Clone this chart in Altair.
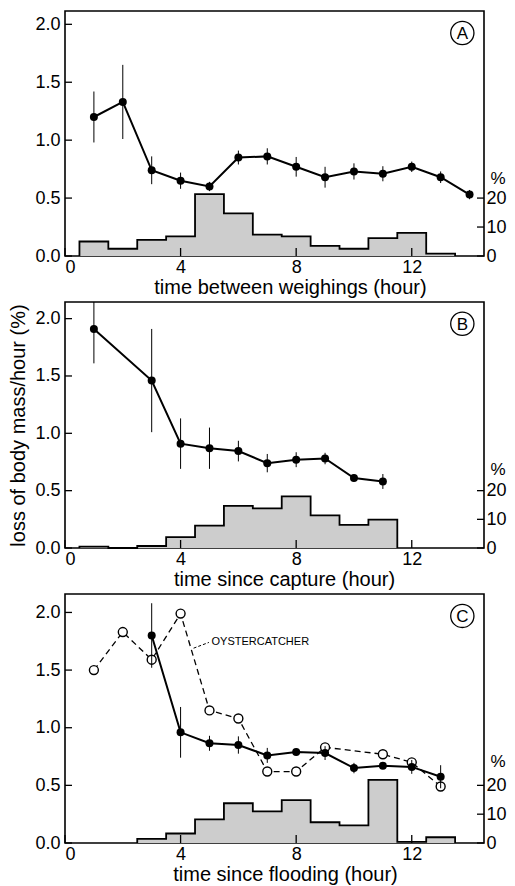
import altair as alt
import pandas as pd

# ---------------- data ----------------
# Panel A: time between weighings
a_x = list(range(1, 15))
a_y = [1.20, 1.33, 0.74, 0.65, 0.60, 0.85, 0.86, 0.77, 0.68, 0.73, 0.71, 0.77, 0.68, 0.53]
a_err = [0.22, 0.32, 0.12, 0.07, 0.04, 0.06, 0.07, 0.085, 0.09, 0.07, 0.065, 0.045, 0.05, 0.04]
a_hist_x = list(range(1, 14))
a_hist_pct = [5.0, 2.5, 5.6, 6.8, 21.4, 14.7, 7.4, 6.8, 3.5, 2.5, 6.2, 8.0, 0.8]

# Panel B: time since capture
b_x = [1, 3, 4, 5, 6, 7, 8, 9, 10, 11]
b_y = [1.91, 1.46, 0.91, 0.87, 0.845, 0.74, 0.77, 0.78, 0.61, 0.58]
b_err = [0.30, 0.45, 0.22, 0.18, 0.09, 0.08, 0.065, 0.05, 0.03, 0.065]
b_hist_x = list(range(1, 12))
b_hist_pct = [0.5, 0.0, 0.7, 3.8, 7.8, 14.7, 13.8, 18.0, 11.4, 8.1, 9.9]

# Panel C: time since flooding
c_x = list(range(3, 14))
c_y = [1.80, 0.96, 0.865, 0.85, 0.76, 0.79, 0.78, 0.65, 0.67, 0.66, 0.575]
c_err = [0.28, 0.22, 0.065, 0.075, 0.065, 0.03, 0.06, 0.045, 0.02, 0.06, 0.10]
c_open_x = [1, 2, 3, 4, 5, 6, 7, 8, 9, 11, 12, 13]
c_open_y = [1.50, 1.83, 1.59, 1.99, 1.15, 1.08, 0.62, 0.62, 0.83, 0.77, 0.70, 0.49]
c_hist_x = list(range(3, 14))
c_hist_pct = [1.4, 3.3, 8.2, 13.8, 11.0, 14.9, 7.2, 6.1, 21.9, 0.4, 2.0]

x_titles = ["time between weighings (hour)", "time since capture (hour)", "time since flooding (hour)"]
y_title = "loss of body mass/hour (%)"
letters = ["A", "B", "C"]
x_ticks = [0, 4, 8, 12]
y_ticks = [0.0, 0.5, 1.0, 1.5, 2.0]
pct_ticks = [0, 10, 20]
open_label = "OYSTERCATCHER"

# ---------------- layout constants ----------------
W = 419
HEIGHTS = [245, 246, 249]
YMAXES = [2.115, 2.145, 2.16]
TITLE_X = [225, 219, 220]
TITLE_Y = [37, 37, 37]
XMAX = 14.5
PCT_PER_UNIT = 40.0  # 20 % on the right axis == 0.5 on the left axis
FONT = "Liberation Sans"
LBL = 18
TTL = 20


def panel(idx, xs, ys, errs, hx, hp, open_x=None, open_y=None):
    H = HEIGHTS[idx]
    YMAX = YMAXES[idx]
    x_scale = alt.Scale(domain=[0, XMAX], nice=False, zero=False)
    y_scale = alt.Scale(domain=[0, YMAX], nice=False)
    p_scale = alt.Scale(domain=[0, YMAX * PCT_PER_UNIT], nice=False)

    x_axis = alt.Axis(values=x_ticks, ticks=False, domain=False, grid=False,
                      labelPadding=2, labelFontSize=LBL, title=x_titles[idx],
                      titleFontSize=TTL, titleFontWeight="normal",
                      titleX=TITLE_X[idx], titleY=TITLE_Y[idx],
                      titleAlign="center", titleBaseline="alphabetic")
    y_axis = alt.Axis(values=y_ticks, format=".1f", ticks=False, labelPadding=5,
                      domain=False, grid=False, labelFontSize=LBL,
                      title=(y_title if idx == 1 else None), titleFontSize=TTL,
                      titleFontWeight="normal", titlePadding=6)
    p_axis = alt.Axis(orient="right", values=pct_ticks, ticks=False, labelPadding=2,
                      domain=False, grid=False, labelFontSize=LBL, title="%",
                      titleAngle=0, titleX=13.5, titleY=167, titleAlign="center",
                      titleBaseline="middle", titleFontSize=17, titleFontWeight="normal")

    # histogram (step outline + fill)
    lefts = [c - 0.5 for c in hx]
    right_end = hx[-1] + 0.5
    area_df = pd.DataFrame({"e": lefts + [right_end], "p": hp + [hp[-1]]})
    line_df = pd.DataFrame({
        "e": [lefts[0]] + lefts + [right_end, right_end],
        "p": [0.0] + hp + [hp[-1], 0.0],
    })
    line_df["o"] = range(len(line_df))

    hist_area = alt.Chart(area_df).mark_area(interpolate="step-after", color="#cdcdcd").encode(
        x=alt.X("e:Q", scale=x_scale, axis=x_axis),
        y=alt.Y("p:Q", scale=p_scale, axis=p_axis),
    )
    hist_line = alt.Chart(line_df).mark_line(interpolate="step-after", color="black", strokeWidth=1.8).encode(
        x=alt.X("e:Q", scale=x_scale, axis=x_axis),
        y=alt.Y("p:Q", scale=p_scale, axis=p_axis),
        order="o:Q",
    )
    # inward ticks of the right (%) axis
    pt_df = pd.DataFrame({"p": pct_ticks})
    hist_ticks = alt.Chart(pt_df).mark_rule(color="black", strokeWidth=1.3).encode(
        y=alt.Y("p:Q", scale=p_scale, axis=p_axis),
        x=alt.value(W - 7), x2=alt.value(W),
    )
    hist = alt.layer(hist_area, hist_line, hist_ticks)

    df = pd.DataFrame({"x": xs, "v": ys, "se": errs})
    df["lo"] = df["v"] - df["se"]
    df["hi"] = df["v"] + df["se"]

    layers = []
    if open_x is not None:
        odf = pd.DataFrame({"x": open_x, "v": open_y})
        layers.append(alt.Chart(odf).mark_line(color="black", strokeWidth=1.3, strokeDash=[6, 4]).encode(
            x=alt.X("x:Q", scale=x_scale, axis=x_axis),
            y=alt.Y("v:Q", scale=y_scale, axis=y_axis)))
        layers.append(alt.Chart(odf).mark_point(shape="circle", size=80, filled=True, fill="white",
                                                stroke="black", strokeWidth=1.4, opacity=1).encode(
            x=alt.X("x:Q", scale=x_scale, axis=x_axis),
            y=alt.Y("v:Q", scale=y_scale, axis=y_axis)))
        note_df = pd.DataFrame({"x": [5.07], "v": [1.74], "t": [open_label]})
        layers.append(alt.Chart(note_df).mark_text(align="left", baseline="middle", fontSize=11,
                                                   font=FONT, color="black").encode(
            x=alt.X("x:Q", scale=x_scale, axis=x_axis),
            y=alt.Y("v:Q", scale=y_scale, axis=y_axis), text="t:N"))
        lead_df = pd.DataFrame({"x": [4.45], "x2": [4.98], "v": [1.69], "v2": [1.74]})
        layers.append(alt.Chart(lead_df).mark_rule(color="black", strokeWidth=1, strokeDash=[3, 2]).encode(
            x=alt.X("x:Q", scale=x_scale, axis=x_axis), x2="x2:Q",
            y=alt.Y("v:Q", scale=y_scale, axis=y_axis), y2="v2:Q"))

    layers.append(alt.Chart(df).mark_rule(color="black", strokeWidth=1, clip=True).encode(
        x=alt.X("x:Q", scale=x_scale, axis=x_axis),
        y=alt.Y("lo:Q", scale=y_scale, axis=y_axis), y2="hi:Q"))
    layers.append(alt.Chart(df).mark_line(color="black", strokeWidth=2).encode(
        x=alt.X("x:Q", scale=x_scale, axis=x_axis),
        y=alt.Y("v:Q", scale=y_scale, axis=y_axis)))
    layers.append(alt.Chart(df).mark_circle(color="black", size=64, opacity=1).encode(
        x=alt.X("x:Q", scale=x_scale, axis=x_axis),
        y=alt.Y("v:Q", scale=y_scale, axis=y_axis)))

    # inward x ticks
    tdf = pd.DataFrame({"x": x_ticks})
    layers.append(alt.Chart(tdf).mark_rule(color="black", strokeWidth=1.3).encode(
        x=alt.X("x:Q", scale=x_scale, axis=x_axis),
        y=alt.value(H), y2=alt.value(H - 8)))
    # inward y ticks (left axis)
    ydf = pd.DataFrame({"v": y_ticks})
    layers.append(alt.Chart(ydf).mark_rule(color="black", strokeWidth=1.3).encode(
        y=alt.Y("v:Q", scale=y_scale, axis=y_axis),
        x=alt.value(0), x2=alt.value(7)))

    # circled panel letter
    ldf = pd.DataFrame({"x": [13.75], "v": [YMAX - 0.19], "t": [letters[idx]]})
    layers.append(alt.Chart(ldf).mark_point(shape="circle", size=540, filled=True, fill="white",
                                            stroke="black", strokeWidth=1.3, opacity=1).encode(
        x=alt.X("x:Q", scale=x_scale, axis=x_axis),
        y=alt.Y("v:Q", scale=y_scale, axis=y_axis)))
    layers.append(alt.Chart(ldf).mark_text(fontSize=17, font=FONT, color="black",
                                           baseline="middle", align="center", dy=1).encode(
        x=alt.X("x:Q", scale=x_scale, axis=x_axis),
        y=alt.Y("v:Q", scale=y_scale, axis=y_axis), text="t:N"))

    main = alt.layer(*layers)
    return alt.layer(hist, main).resolve_scale(y="independent").properties(width=W, height=H)


pA = panel(0, a_x, a_y, a_err, a_hist_x, a_hist_pct)
pB = panel(1, b_x, b_y, b_err, b_hist_x, b_hist_pct)
pC = panel(2, c_x, c_y, c_err, c_hist_x, c_hist_pct, c_open_x, c_open_y)

chart = alt.vconcat(pA, pB, pC, spacing=46, bounds="flush").properties(
    padding={"left": 0, "top": 2, "right": 0, "bottom": 0}
).configure(font=FONT).configure_view(
    stroke="black", strokeWidth=1.6
).configure_axis(
    labelColor="black", tickColor="black", titleColor="black", labelFont=FONT, titleFont=FONT
)

chart.save("out.html", embed_options={"renderer": "svg", "actions": False})
